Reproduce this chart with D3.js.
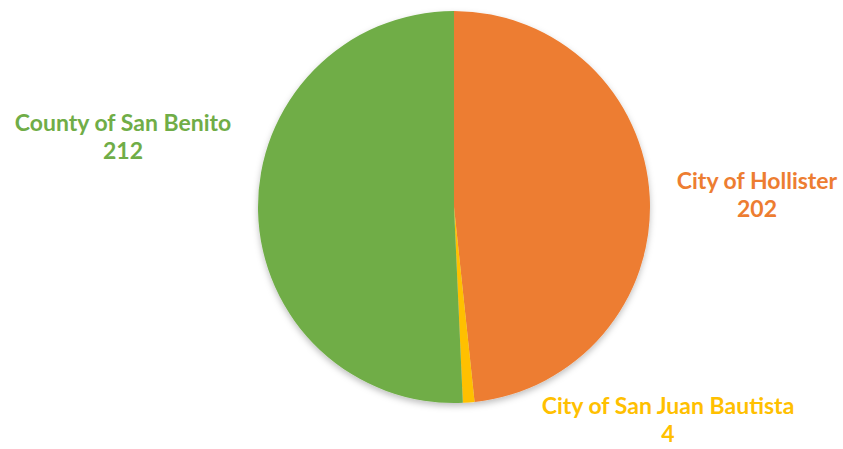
<!DOCTYPE html>
<html><head><meta charset="utf-8">
<script src="https://cdn.jsdelivr.net/npm/d3@7"></script>
<style>body{margin:0;background:#fff}svg{display:block}</style>
</head><body>
<svg id="c" width="843" height="449"></svg>
<script>
const categories = ["City of Hollister", "City of San Juan Bautista", "County of San Benito"];
const values = [202, 4, 212];
const colors = ["#ED7D31", "#FFC000", "#70AD47"];

const W = 843, H = 449;
const cx = 454, cy = 207, R = 196;
const svg = d3.select("#c");

const defs = svg.append("defs");
const f = defs.append("filter").attr("id","sh").attr("x","-10%").attr("y","-10%").attr("width","120%").attr("height","125%");
f.append("feDropShadow").attr("dx",0).attr("dy",3).attr("stdDeviation",3).attr("flood-color","#000").attr("flood-opacity",0.25);

const data = categories.map((c,i)=>({name:c, value:values[i], color:colors[i]}));
const pie = d3.pie().value(d=>d.value).sort(null);
const arc = d3.arc().innerRadius(0).outerRadius(R);
const g = svg.append("g").attr("transform",`translate(${cx},${cy})`);
const arcs = pie(data);
g.append("g").attr("filter","url(#sh)").selectAll("path").data(arcs).join("path")
  .attr("d",arc).attr("fill",d=>d.data.color);

// label placement (x center, first baseline, line gap)
const labelPos = {
  "City of Hollister": [757, 189, 28],
  "City of San Juan Bautista": [668, 414, 28],
  "County of San Benito": [123, 131, 28]
};
const lab = svg.append("g").attr("font-family","Lato, 'Open Sans', sans-serif").attr("font-weight","bold").attr("font-size",23).attr("text-anchor","middle");
arcs.forEach(a=>{
  const [x,y,gap] = labelPos[a.data.name];
  const t = lab.append("text").attr("fill",a.data.color);
  t.append("tspan").attr("x",x).attr("y",y).text(a.data.name);
  t.append("tspan").attr("x",x).attr("y",y+gap).text(a.data.value);
});
</script>
</body></html>
